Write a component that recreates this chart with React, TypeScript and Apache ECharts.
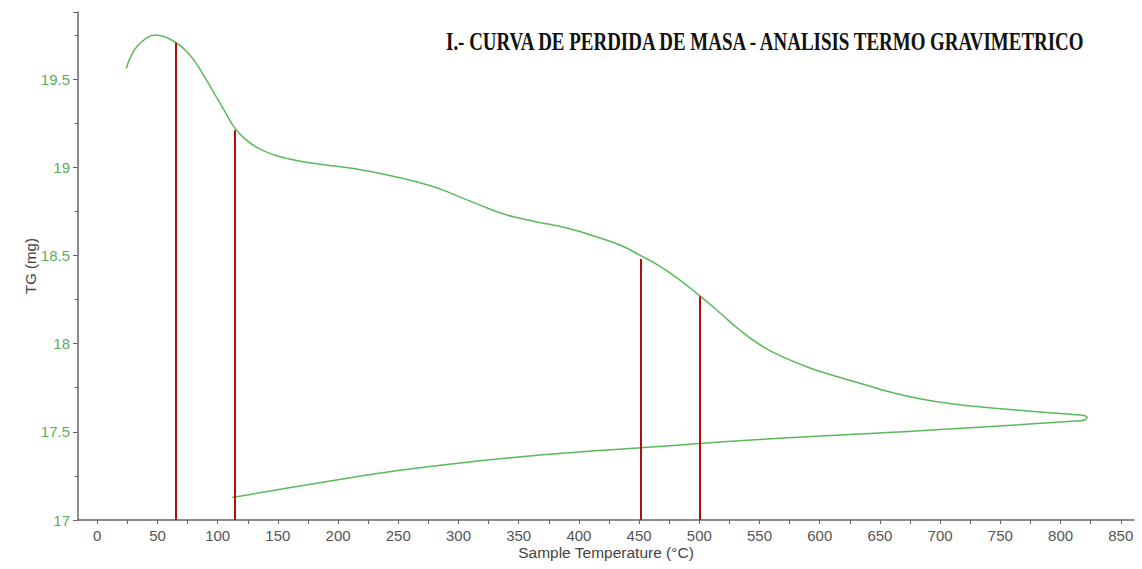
import React, { useEffect, useRef } from "react";
import * as echarts from "echarts";

const TITLE = "I.- CURVA DE PERDIDA DE MASA - ANALISIS TERMO GRAVIMETRICO";
const X_NAME = "Sample Temperature (°C)";
const Y_NAME = "TG (mg)";

const xTickLabels = [0, 50, 100, 150, 200, 250, 300, 350, 400, 450, 500, 550, 600, 650, 700, 750, 800, 850];
const xMinorTicks = [0, 25, 50, 75, 100, 125, 150, 175, 200, 225, 250, 275, 300, 325, 350, 375, 400, 425, 450, 475, 500, 525, 550, 575, 600, 625, 650, 675, 700, 725, 750, 775, 800, 825, 850];

// heating branch (temperature °C, mass mg)
const heatingTemp = [24.1, 28, 33, 40, 48, 56, 65.3, 73, 81.3, 89.6, 98, 106.3, 113.7, 122.8, 133.6, 147.7, 164.4, 185, 210, 237, 265, 285, 300, 318, 335, 350, 365, 390, 417, 435, 451, 465, 480, 500, 517, 533, 550, 567, 592, 617, 640, 656, 683, 711, 739, 766, 794, 810, 819.5, 822];
const heatingTG = [19.561, 19.63, 19.685, 19.728, 19.75, 19.74, 19.706, 19.665, 19.597, 19.506, 19.409, 19.313, 19.227, 19.159, 19.108, 19.068, 19.04, 19.017, 18.995, 18.962, 18.918, 18.876, 18.835, 18.785, 18.74, 18.712, 18.69, 18.655, 18.6, 18.556, 18.5, 18.448, 18.38, 18.273, 18.175, 18.08, 17.995, 17.932, 17.862, 17.808, 17.762, 17.73, 17.688, 17.658, 17.638, 17.622, 17.606, 17.598, 17.592, 17.58];

// cooling branch
const coolingTemp = [820, 816, 794, 766, 739, 711, 683, 656, 628, 600, 573, 540, 500, 451, 400, 350, 300, 250, 200, 157, 112];
const coolingTG = [17.568, 17.562, 17.553, 17.54, 17.528, 17.517, 17.506, 17.496, 17.486, 17.476, 17.466, 17.452, 17.434, 17.409, 17.385, 17.357, 17.322, 17.28, 17.228, 17.18, 17.127];

// red marker lines (temperature, top value)
const markerTemp = [65.3, 113.8, 451.5, 500.5];
const markerTop = [19.706, 19.21, 18.48, 18.267];

export default function App() {
  const ref = useRef<HTMLDivElement>(null);

  useEffect(() => {
    document.body.style.margin = "0";
    if (!ref.current) return;
    const chart = echarts.init(ref.current, undefined, { renderer: "svg" });

    const curve: number[][] = [];
    heatingTemp.forEach((t, i) => curve.push([t, heatingTG[i]]));
    coolingTemp.forEach((t, i) => curve.push([t, coolingTG[i]]));

    const titleFont = 'bold 26px "Liberation Serif"';
    let scaleX = 0.78;
    try {
      const ctx = document.createElement("canvas").getContext("2d");
      if (ctx) {
        ctx.font = titleFont;
        const w = ctx.measureText(TITLE).width;
        if (w > 0) scaleX = 642 / w;
      }
    } catch (e) {}

    chart.setOption({
      animation: false,
      backgroundColor: "#ffffff",
      grid: { left: 78, right: 8, top: 12, bottom: 49, containLabel: false, outerBoundsMode: "none" },
      graphic: [
        {
          type: "text",
          x: 446,
          y: 41,
          scaleX: scaleX,
          style: {
            text: TITLE,
            font: titleFont,
            fill: "#111111",
            textAlign: "left",
            textVerticalAlign: "middle",
          },
        },
      ],
      xAxis: {
        type: "value",
        min: -16,
        max: 861,
        name: X_NAME,
        nameLocation: "middle",
        nameGap: 24,
        nameMoveOverlap: false,
        nameTextStyle: { color: "#444444", fontSize: 15.5, fontFamily: "Liberation Sans" },
        axisLine: { show: true, onZero: false, lineStyle: { color: "#666666", width: 1.5 } },
        axisTick: { show: true, length: 4, customValues: xMinorTicks, lineStyle: { color: "#666666" } },
        axisLabel: { customValues: xTickLabels, color: "#555555", fontSize: 15, fontFamily: "Liberation Sans", margin: 8 },
        splitLine: { show: false },
      },
      yAxis: {
        type: "value",
        min: 17,
        max: 19.88,
        interval: 0.5,
        name: Y_NAME,
        nameLocation: "middle",
        nameGap: 40,
        nameMoveOverlap: false,
        nameTextStyle: { color: "#444444", fontSize: 15, fontFamily: "Liberation Sans" },
        axisLine: { show: true, onZero: false, lineStyle: { color: "#666666", width: 1.5 } },
        axisTick: { show: true, length: 5, lineStyle: { color: "#666666" } },
        minorTick: { show: true, splitNumber: 2, length: 3, lineStyle: { color: "#666666" } },
        axisLabel: { color: "#5cad5c", fontSize: 15, fontFamily: "Liberation Sans", margin: 8, showMaxLabel: false },
        splitLine: { show: false },
      },
      series: [
        {
          type: "line",
          data: curve,
          smooth: 0.5,
          showSymbol: false,
          symbol: "none",
          lineStyle: { color: "#5cb85c", width: 1.5 },
          z: 3,
        },
        {
          type: "line",
          data: [],
          symbol: "none",
          markLine: {
            silent: true,
            symbol: ["none", "none"],
            label: { show: false },
            lineStyle: { color: "#b00f0f", width: 2, type: "solid" },
            data: markerTemp.map((t, i) => [{ coord: [t, 17] }, { coord: [t, markerTop[i]] }]),
          },
          z: 2,
        },
      ],
    });

    return () => chart.dispose();
  }, []);

  return <div ref={ref} style={{ width: 1142, height: 569 }} />;
}
